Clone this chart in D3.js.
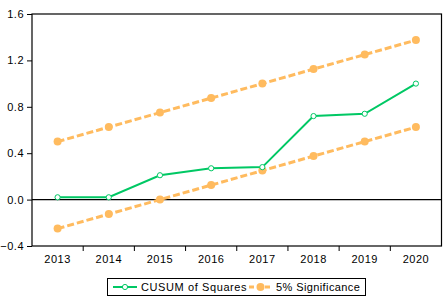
<!DOCTYPE html>
<html>
<head>
<meta charset="utf-8">
<script src="https://cdn.jsdelivr.net/npm/d3@7"></script>
<style>
body { margin: 0; background: #fff; }
svg text { font-family: Arial, "Liberation Sans", sans-serif; font-size: 11px; fill: #000; }
</style>
</head>
<body>
<script>
// data
let years = ['2013', '2014', '2015', '2016', '2017', '2018', '2019', '2020']
let cusum = [0.02, 0.02, 0.21, 0.27, 0.28, 0.72, 0.74, 1.0]
let upper = [0.5, 0.625, 0.75, 0.875, 1.0, 1.125, 1.25, 1.375]
let lower = [-0.25, -0.125, 0.0, 0.125, 0.25, 0.375, 0.5, 0.625]
let yTicks = [-0.4, 0.0, 0.4, 0.8, 1.2, 1.6]

let green = '#00c864'
let orange = '#ffbb5f'

let svg = d3.select('body').append('svg')
    .attr('width', 448)
    .attr('height', 300)

let plotL = 32, plotR = 441.5, plotT = 14, plotB = 246

let xScale = d3.scaleBand()
    .domain(years)
    .range([plotL, plotR])

let yScale = d3.scaleLinear()
    .domain([-0.4, 1.6])
    .range([plotB, plotT])

// frame
svg.append('rect')
    .attr('x', plotL).attr('y', plotT)
    .attr('width', plotR - plotL).attr('height', plotB - plotT)
    .attr('fill', 'none').attr('stroke', '#000').attr('stroke-width', 1.2)

// y axis
let yAxis = d3.axisLeft(yScale)
    .tickValues(yTicks)
    .tickFormat(d3.format('.1f'))
    .tickSize(5)
    .tickPadding(3)

let gy = svg.append('g')
    .attr('transform', `translate(${plotL},0)`)
    .call(yAxis)
gy.select('.domain').remove()
gy.selectAll('line').attr('stroke', '#000')
gy.selectAll('text').attr('letter-spacing', 0.5)

// x axis - ticks on band edges
let xAxis = d3.axisBottom(xScale).tickSize(0).tickPadding(9)
let gx = svg.append('g')
    .attr('transform', `translate(0,${plotB})`)
    .call(xAxis)
gx.select('.domain').remove()
gx.selectAll('text').attr('letter-spacing', 0.5)

svg.selectAll('.xtick')
    .data(years.slice(1))
    .enter()
    .append('line')
        .attr('x1', d => xScale(d))
        .attr('x2', d => xScale(d))
        .attr('y1', plotB)
        .attr('y2', plotB + 5)
        .attr('stroke', '#000')

// zero line
svg.append('line')
    .attr('x1', plotL).attr('x2', plotR)
    .attr('y1', yScale(0)).attr('y2', yScale(0))
    .attr('stroke', '#000').attr('stroke-width', 1.2)

let cx = d => xScale(d) + xScale.bandwidth() / 2

let line = d3.line()
    .x((d, i) => cx(years[i]))
    .y(d => yScale(d))

// significance bands
;[upper, lower].forEach(arr => {
    svg.append('path')
        .datum(arr)
        .attr('d', line)
        .attr('fill', 'none')
        .attr('stroke', orange)
        .attr('stroke-width', 3)
        .attr('stroke-dasharray', '7,3')
    svg.selectAll(null)
        .data(arr)
        .enter()
        .append('circle')
            .attr('cx', (d, i) => cx(years[i]))
            .attr('cy', d => yScale(d))
            .attr('r', 4)
            .attr('fill', orange)
})

// cusum line
svg.append('path')
    .datum(cusum)
    .attr('d', line)
    .attr('fill', 'none')
    .attr('stroke', green)
    .attr('stroke-width', 2)

svg.selectAll('.cpt')
    .data(cusum)
    .enter()
    .append('circle')
        .attr('cx', (d, i) => cx(years[i]))
        .attr('cy', d => yScale(d))
        .attr('r', 2.6)
        .attr('fill', '#fff')
        .attr('stroke', green)
        .attr('stroke-width', 1)

// legend
let lg = svg.append('g')
lg.append('rect')
    .attr('x', 107.5).attr('y', 278.5)
    .attr('width', 258).attr('height', 17)
    .attr('fill', '#fff').attr('stroke', '#000')

lg.append('line')
    .attr('x1', 113).attr('x2', 137).attr('y1', 287).attr('y2', 287)
    .attr('stroke', green).attr('stroke-width', 2)
lg.append('circle')
    .attr('cx', 125).attr('cy', 287).attr('r', 2.6)
    .attr('fill', '#fff').attr('stroke', green)
lg.append('text')
    .attr('x', 141).attr('y', 291)
    .attr('letter-spacing', 0.6)
    .text('CUSUM of Squares')

lg.append('line')
    .attr('x1', 249).attr('x2', 272).attr('y1', 287).attr('y2', 287)
    .attr('stroke', orange).attr('stroke-width', 3)
    .attr('stroke-dasharray', '5,3')
lg.append('circle')
    .attr('cx', 260.5).attr('cy', 287).attr('r', 4)
    .attr('fill', orange)
lg.append('text')
    .attr('x', 276).attr('y', 291)
    .attr('letter-spacing', 0.4)
    .text('5% Significance')
</script>
</body>
</html>
